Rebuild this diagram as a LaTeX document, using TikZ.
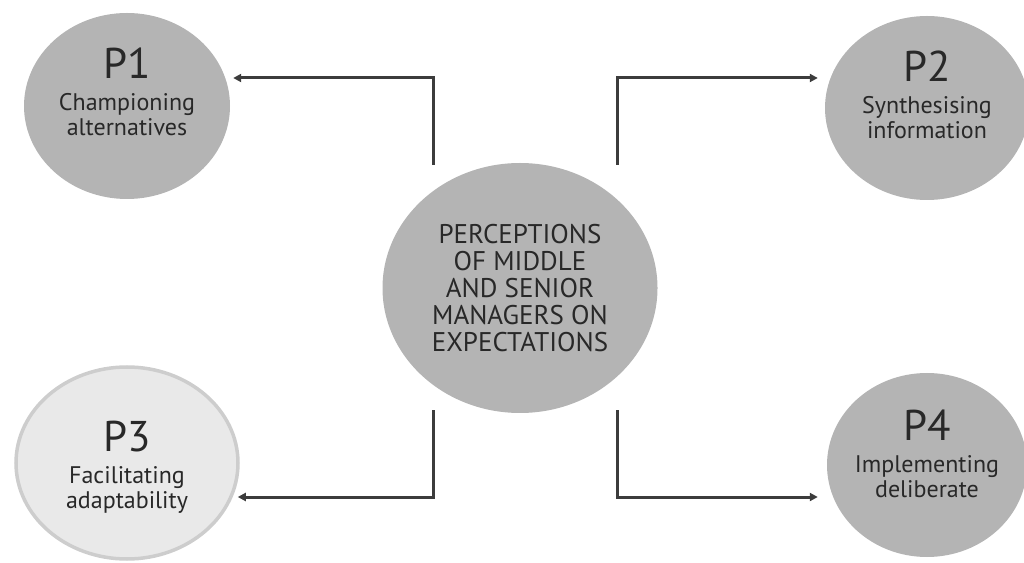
\documentclass[tikz,border=0pt]{standalone}
\usepackage{fontspec}
\setmainfont{PT Sans}
\usetikzlibrary{shapes.geometric}
\usetikzlibrary{arrows.meta}
\definecolor{bubblegrey}{RGB}{180,180,180}
\definecolor{palegrey}{RGB}{233,233,233}
\definecolor{rimgrey}{RGB}{205,205,205}
\definecolor{inkgrey}{RGB}{40,40,40}
\definecolor{linkgrey}{RGB}{60,60,60}

\begin{document}
\begin{tikzpicture}[x=1pt, y=1pt,
            bubble/.style={ellipse, fill=bubblegrey, inner sep=0pt},
            palebubble/.style={ellipse, fill=palegrey, draw=rimgrey, line width=3.5pt, inner sep=0pt},
            bubbletext/.style={align=center, text=inkgrey, font=\fontsize{24}{25}\selectfont},
            link/.style={color=linkgrey, line width=3pt, -{Triangle[length=8pt, width=8pt]}}
        ]
            \useasboundingbox (0,0) rectangle (1024,562);

            % centre
            \node[bubble, minimum width=275, minimum height=250, align=center, text=inkgrey,
                font=\fontsize{27}{27}\selectfont] (centre) at (520,274)
                {PERCEPTIONS\\OF MIDDLE\\AND SENIOR\\MANAGERS ON\\EXPECTATIONS};

            % outer bubbles
            \node[bubble, minimum width=206, minimum height=186] (p1) at (127,456) {};
            \node[bubble, minimum width=204, minimum height=184] (p2) at (927,454) {};
            \node[palebubble, minimum width=222, minimum height=192] (p3) at (127,99) {};
            \node[bubble, minimum width=200, minimum height=184] (p4) at (927,97) {};

            % texts
            \node[bubbletext] (p1text) at ([yshift=14]p1.center)
                {{\fontsize{43}{43}\selectfont P1}\\[7pt]Championing\\alternatives};
            \node[bubbletext] (p2text) at ([yshift=13]p2.center)
                {{\fontsize{43}{43}\selectfont P2}\\[7pt]Synthesising\\information};
            \node[bubbletext] (p3text) at ([yshift=-4]p3.center)
                {{\fontsize{43}{43}\selectfont P3}\\[7pt]Facilitating\\adaptability};
            \node[bubbletext] (p4text) at ([yshift=11]p4.center)
                {{\fontsize{43}{43}\selectfont P4}\\[7pt]Implementing\\deliberate};

            % connectors
            \draw[link] ([xshift=-87, yshift=-2]centre.north) |- ([xshift=3, yshift=28]p1.east);
            \draw[link] ([xshift=97, yshift=-2]centre.north) |- ([xshift=-7, yshift=30]p2.west);
            \draw[link] ([xshift=-87, yshift=3]centre.south) |- ([xshift=-2, yshift=-34]p3.east);
            \draw[link] ([xshift=97, yshift=3]centre.south) |- ([xshift=-9, yshift=-32]p4.west);

        \end{tikzpicture}
\end{document}
